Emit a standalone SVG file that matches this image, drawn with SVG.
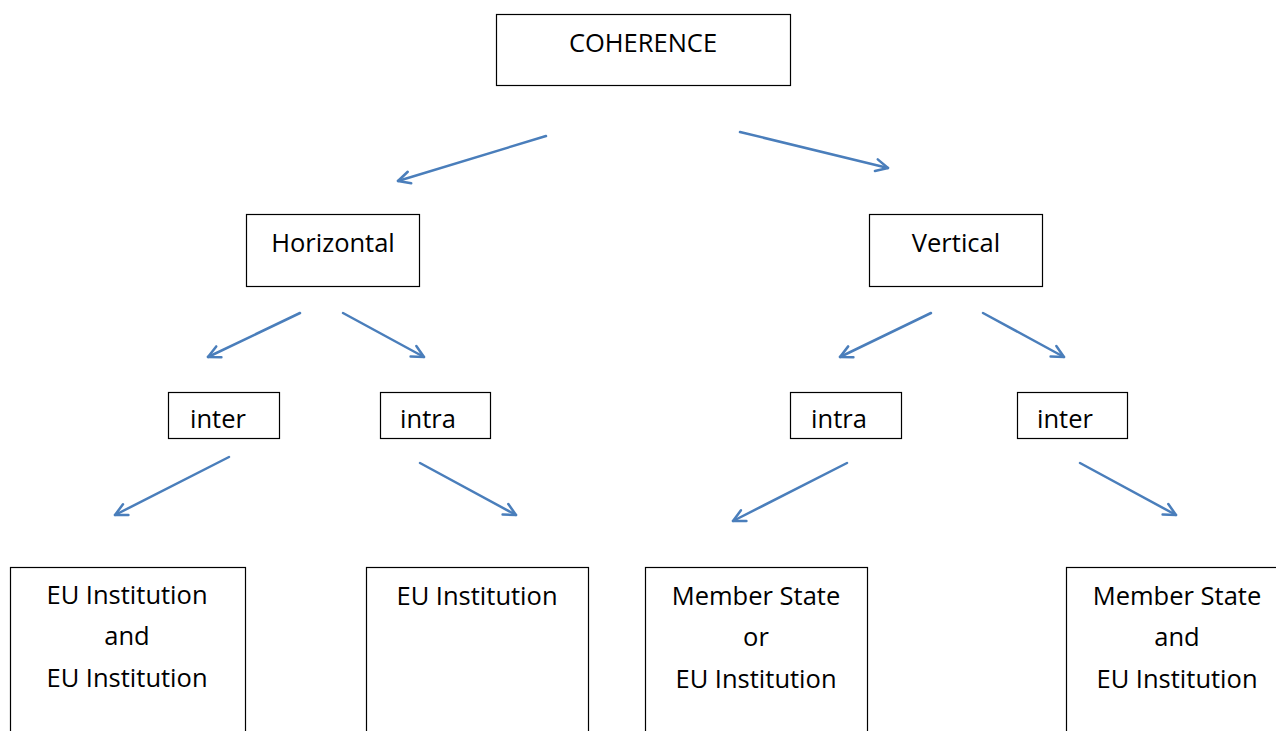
<svg xmlns="http://www.w3.org/2000/svg" width="1276" height="731" viewBox="0 0 1276 731">
  <style>
    .box { fill: #ffffff; stroke: #000000; stroke-width: 1.2; }
    .lbl { font-family: "Open Sans", Lato, "Liberation Sans", sans-serif; font-size: 25.5px; fill: #000000; text-anchor: middle; }
    .conn { fill: none; stroke: #4a7ebb; stroke-width: 2.5; stroke-linecap: round; marker-end: url(#open); }
  </style>
  <defs>
    <marker id="open" viewBox="0 0 16 16" refX="14" refY="8" markerWidth="16" markerHeight="16" markerUnits="userSpaceOnUse" orient="auto">
      <path d="M2,2 L14,8 L2,14" fill="none" stroke="#4a7ebb" stroke-width="2.5" stroke-linecap="round" stroke-linejoin="round"/>
    </marker>
  </defs>
  <rect width="1276" height="731" fill="#ffffff"/>

  <g id="coherence">
    <rect class="box" x="496.5" y="14.5" width="294" height="71"/>
    <text class="lbl" x="643" y="52">COHERENCE</text>
  </g>

  <g id="horizontal">
    <rect class="box" x="246.5" y="214.5" width="173" height="72"/>
    <text class="lbl" x="333" y="252">Horizontal</text>
  </g>
  <g id="vertical">
    <rect class="box" x="869.5" y="214.5" width="173" height="72"/>
    <text class="lbl" x="956" y="252">Vertical</text>
  </g>

  <g id="h-inter">
    <rect class="box" x="168.5" y="392.5" width="111" height="46"/>
    <text class="lbl" x="218" y="428">inter</text>
  </g>
  <g id="h-intra">
    <rect class="box" x="380.5" y="392.5" width="110" height="46"/>
    <text class="lbl" x="428" y="428">intra</text>
  </g>
  <g id="v-intra">
    <rect class="box" x="790.5" y="392.5" width="111" height="46"/>
    <text class="lbl" x="839" y="428">intra</text>
  </g>
  <g id="v-inter">
    <rect class="box" x="1017.5" y="392.5" width="110" height="46"/>
    <text class="lbl" x="1065" y="428">inter</text>
  </g>

  <g id="eu-and-eu">
    <rect class="box" x="10.5" y="567.5" width="235" height="180"/>
    <text class="lbl" x="127" y="604">EU Institution</text>
    <text class="lbl" x="127" y="645">and</text>
    <text class="lbl" x="127" y="687">EU Institution</text>
  </g>
  <g id="eu">
    <rect class="box" x="366.5" y="567.5" width="222" height="180"/>
    <text class="lbl" x="477" y="605">EU Institution</text>
  </g>
  <g id="ms-or-eu">
    <rect class="box" x="645.5" y="567.5" width="222" height="180"/>
    <text class="lbl" x="756" y="605">Member State</text>
    <text class="lbl" x="756" y="646">or</text>
    <text class="lbl" x="756" y="688">EU Institution</text>
  </g>
  <g id="ms-and-eu">
    <rect class="box" x="1066.5" y="567.5" width="230" height="180"/>
    <text class="lbl" x="1177" y="605">Member State</text>
    <text class="lbl" x="1177" y="646">and</text>
    <text class="lbl" x="1177" y="688">EU Institution</text>
  </g>

  <g id="connectors">
    <line class="conn" x1="546" y1="136" x2="398" y2="181"/>
    <line class="conn" x1="740" y1="132" x2="888" y2="168"/>
    <line class="conn" x1="300" y1="313" x2="208" y2="357"/>
    <line class="conn" x1="343" y1="313" x2="424" y2="357"/>
    <line class="conn" x1="931" y1="313" x2="840" y2="357"/>
    <line class="conn" x1="983" y1="313" x2="1064" y2="357"/>
    <line class="conn" x1="229" y1="457" x2="115" y2="515"/>
    <line class="conn" x1="420" y1="463" x2="516" y2="515"/>
    <line class="conn" x1="847" y1="463" x2="733" y2="521"/>
    <line class="conn" x1="1080" y1="463" x2="1176" y2="515"/>
  </g>
</svg>
